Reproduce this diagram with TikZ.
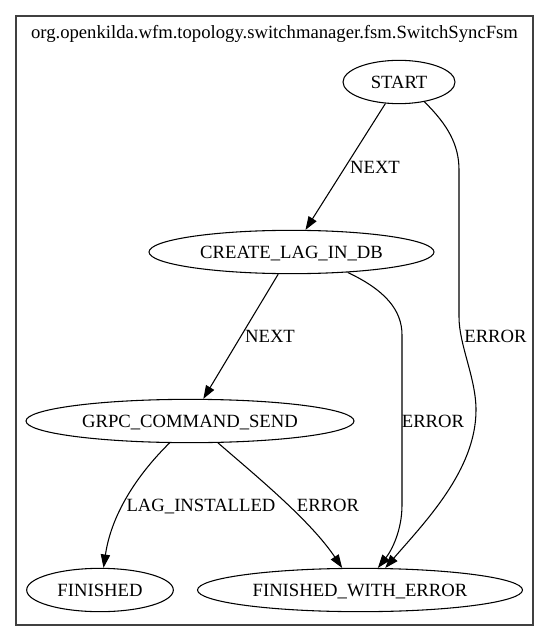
\documentclass[tikz,border=0pt]{standalone}
\usepackage{fontspec}
\setmainfont{Liberation Serif}
\usetikzlibrary{arrows.meta,shapes.geometric}
\begin{document}
\begin{tikzpicture}[x=0.75pt,y=-0.75pt,
  state/.style={ellipse,draw,line width=0.8pt,inner sep=0pt,minimum height=32.5pt,text height=9.5pt,text depth=0pt,font=\fontsize{14}{16}\selectfont},
  lbl/.style={anchor=base,inner sep=0pt,font=\fontsize{14}{16}\selectfont},
  edge/.style={draw,line width=0.8pt,-{Triangle[length=10pt,width=7pt]}},
  frame/.style={draw=black!75,line width=1pt}]
\useasboundingbox (0,0) rectangle (549,641);
\draw[frame] (16,16) rectangle (533,625);
\node[lbl] (title) at (274.5,38.5) {org.openkilda.wfm.topology.switchmanager.fsm.SwitchSyncFsm};
\node[state,minimum width=84pt] (start) at (399,82) {START};
\node[state,minimum width=213.75pt] (create) at (291.5,252) {CREATE\_LAG\_IN\_DB};
\node[state,minimum width=246pt] (grpc) at (190,421) {GRPC\_COMMAND\_SEND};
\node[state,minimum width=110pt] (finished) at (100,590) {FINISHED};
\node[state,minimum width=243.75pt] (fwe) at (360,590) {FINISHED\_WITH\_ERROR};
\draw[edge] (start) -- (create);
\draw[edge] (start.-38) .. controls (448,125) and (459,145) .. (459,170) -- (459,317) .. controls (459,345) and (476,378) .. (476,410) .. controls (476,470) and (425,522) .. (fwe.41);
\draw[edge] (create) -- (grpc);
\draw[edge] (create.-20) .. controls (385,290) and (402,310) .. (402,335) -- (402,505) .. controls (402,530) and (392,550) .. (fwe.51);
\draw[edge] (grpc.-133) .. controls (142,470) and (112,510) .. (finished.81);
\draw[edge] (grpc.-38) .. controls (255,475) and (310,520) .. (fwe.129);
\node[lbl] (l1) at (375,174) {NEXT};
\node[lbl] (l2) at (495.5,342) {ERROR};
\node[lbl] (l3) at (270,342) {NEXT};
\node[lbl] (l4) at (433,427) {ERROR};
\node[lbl] (l5) at (201,511) {LAG\_INSTALLED};
\node[lbl] (l6) at (328,511) {ERROR};
\end{tikzpicture}
\end{document}
